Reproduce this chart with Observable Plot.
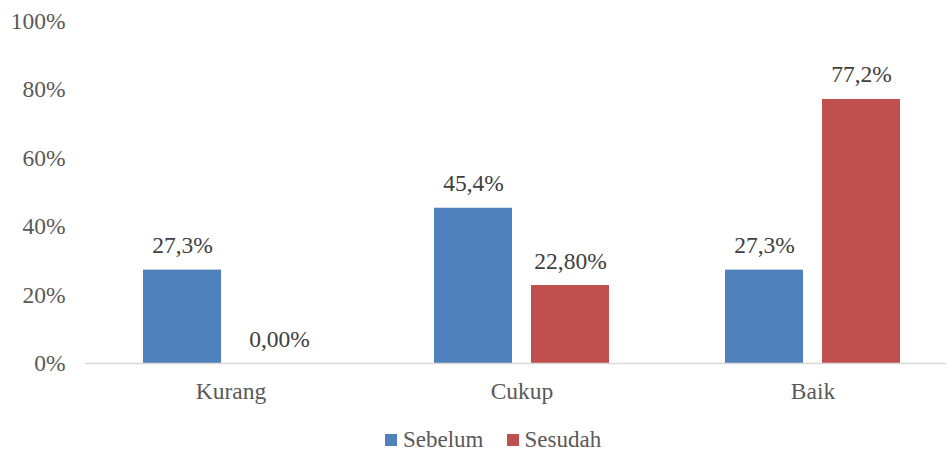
<!DOCTYPE html>
<html>
<head>
<meta charset="utf-8">
<script src="https://cdn.jsdelivr.net/npm/d3@7"></script>
<script src="https://cdn.jsdelivr.net/npm/@observablehq/plot@0.6"></script>
<style>
  html, body { margin: 0; padding: 0; background: #fff; }
  #wrap { width: 946px; height: 452px; position: relative; overflow: hidden; }
  #wrap svg text, #legend { font-family: "Liberation Serif", "Times New Roman", Times, Tinos, "DejaVu Serif", serif !important; }
  #legend { position: absolute; left: 385px; top: 429px; height: 22px; display: flex; align-items: center;
            font-size: 23px; color: #595959; line-height: 22px; }
  .sw { width: 12px; height: 12px; display: inline-block; margin-right: 6px; }
  .item { display: flex; align-items: center; margin-right: 23px; }
</style>
</head>
<body>
<div id="wrap"></div>
<script>
const categories = ["Kurang", "Cukup", "Baik"];
const series = ["Sebelum", "Sesudah"];
const sebelum = [27.3, 45.4, 27.3];
const sesudah = [0, 22.8, 77.2];
const sebelumLabels = ["27,3%", "45,4%", "27,3%"];
const sesudahLabels = ["0,00%", "22,80%", "77,2%"];
const yTicks = [0, 20, 40, 60, 80, 100];
const colors = ["#4F81BD", "#C0504D"];

const data = [];
categories.forEach((c, i) => {
  data.push({cat: c, series: series[0], value: sebelum[i], label: sebelumLabels[i]});
  data.push({cat: c, series: series[1], value: sesudah[i], label: sesudahLabels[i]});
});

const chart = Plot.plot({
  width: 946,
  height: 410,
  marginTop: 21,
  marginBottom: 47,
  marginLeft: 85,
  marginRight: -12,
  style: {fontFamily: "'Liberation Serif', 'Times New Roman', serif", fontSize: "23.5px", color: "#595959", overflow: "hidden", background: "#fff"},
  fx: {domain: categories, padding: 0, label: null, axis: "bottom", tickSize: 0, tickPadding: 19},
  x: {domain: series, paddingInner: 0.196, paddingOuter: 0.598, axis: null},
  y: {domain: [0, 100], ticks: yTicks, tickFormat: d => d + "%", tickSize: 0, tickPadding: 20, label: null},
  color: {domain: series, range: colors},
  marks: [
    Plot.barY(data, {fx: "cat", x: "series", y: "value", fill: "series"}),
    Plot.ruleY([0], {stroke: "#d9d9d9", strokeWidth: 1.5}),
    Plot.text(data, {fx: "cat", x: "series", y: "value", text: "label", lineAnchor: "bottom", dy: -17, fill: "#404040"})
  ]
});

const wrap = document.getElementById("wrap");
wrap.appendChild(chart);

const legend = document.createElement("div");
legend.id = "legend";
series.forEach((s, i) => {
  const item = document.createElement("span");
  item.className = "item";
  const sw = document.createElement("span");
  sw.className = "sw";
  sw.style.background = colors[i];
  item.appendChild(sw);
  item.appendChild(document.createTextNode(s));
  legend.appendChild(item);
});
wrap.appendChild(legend);
</script>
</body>
</html>
